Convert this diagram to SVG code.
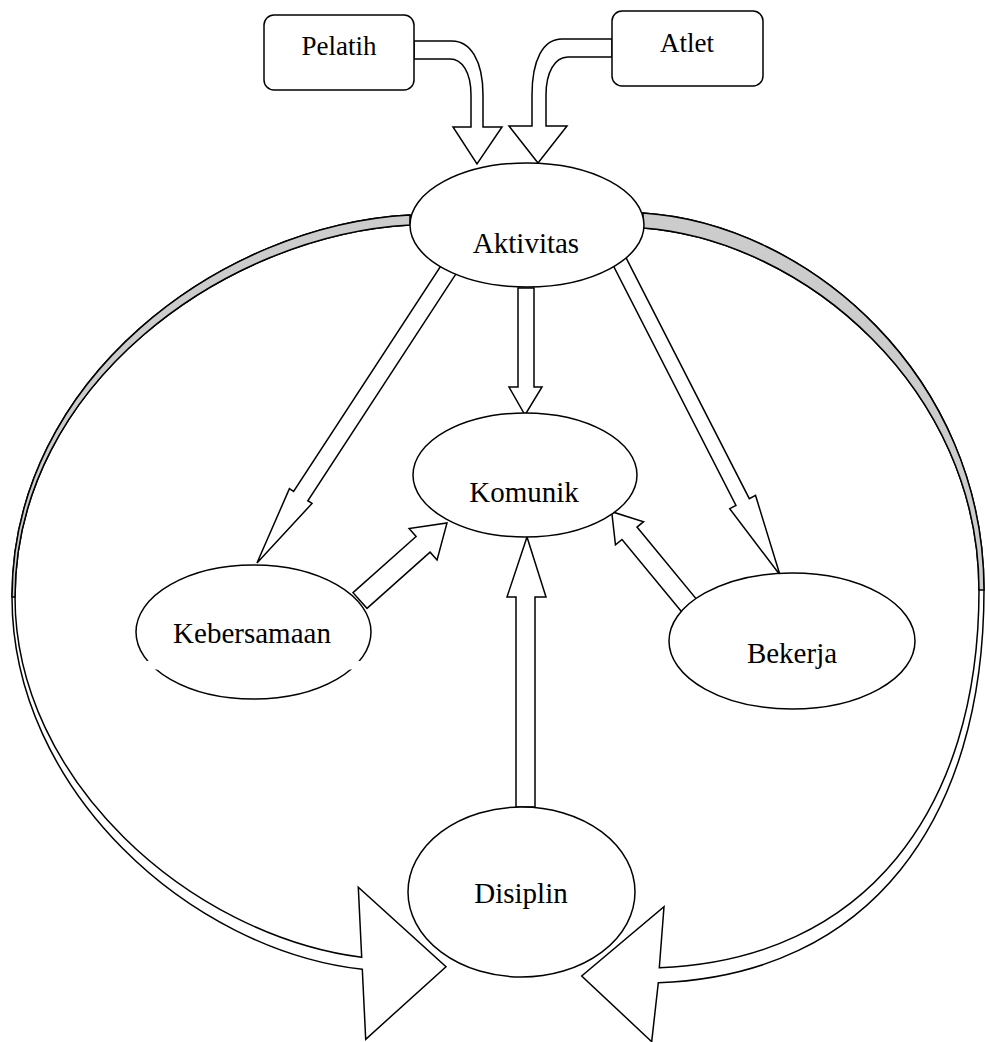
<svg xmlns="http://www.w3.org/2000/svg" width="985" height="1042" viewBox="0 0 985 1042">
<style>
.ln{fill:#ffffff;stroke:#000000;stroke-width:1.5;stroke-linejoin:miter}
.gr{fill:#cccccc;stroke:#000000;stroke-width:1.5}
.nd{fill:#ffffff;stroke:#000000;stroke-width:1.5}
.tx{font-family:"Liberation Serif","Times New Roman",serif;font-size:29px;fill:#000000;text-anchor:middle}
.tb{font-family:"Liberation Serif","Times New Roman",serif;font-size:27px;fill:#000000;text-anchor:middle}
</style>
<rect x="0" y="0" width="985" height="1042" fill="#ffffff"/>
<g id="connectors">
  <!-- left curved arrow -->
  <path class="ln" d="M410,215 C220,225 12,380 12,597 C12,790 190,950 362.3,969.3 L365.7,1039.3 L446,966.7 L358.3,887.3 L361.7,957.3 C190,935 15,780 15,597 C15,385 225,235 410,225 Z"/>
  <path class="gr" d="M410,215 C220,225 12,380 12,597 L15,597 C15,385 225,235 410,225 Z"/>
  <!-- right curved arrow -->
  <path class="ln" d="M643,213 C810,224 984,378 984,590 C984,820 870,975 658.3,982.7 L651.7,1041.7 L581.7,976 L664,906.7 L659.3,967.7 C865,960 979,810 979,590 C979,390 805,240 643,228 Z"/>
  <path class="gr" d="M643,213 C810,224 984,378 984,590 L979,590 C979,390 805,240 643,228 Z"/>
  <!-- Pelatih to Aktivitas -->
  <path class="ln" d="M414,41 L452,41 C470,41 483,60 483,95 L483,127 L502,127 L477,164 L453,127 L471,127 L471,95 C471,72 462,59 450,59 L414,59 Z"/>
  <!-- Atlet to Aktivitas -->
  <path class="ln" d="M612,39 L562,39 C543,39 532,60 532,95 L532,126 L509,126 L538,163 L567,126 L546,126 L546,95 C546,72 555,57 568,57 L612,57 Z"/>
  <!-- Aktivitas to Komunik -->
  <polygon class="ln" points="518,288 534,288 534,387 542,387 525,415 509,387 518,387"/>
  <!-- Aktivitas to Kebersamaan -->
  <polygon class="ln" transform="translate(450,267.5) rotate(123.15)" points="0,-8.5 273,-8.5 273,-13.5 353,0 273,13.5 273,8.5 0,8.5"/>
  <!-- Aktivitas to Bekerja -->
  <polygon class="ln" transform="translate(617.5,257.5) rotate(62.9)" points="0,-7.5 274.7,-7.5 274.7,-14.5 356.7,0 274.7,14.5 274.7,7.5 0,7.5"/>
  <!-- Kebersamaan to Komunik -->
  <polygon class="ln" transform="translate(360,600.5) rotate(-41.7)" points="0,-10.5 84.5,-10.5 84.5,-21 116.5,0 84.5,21 84.5,10.5 0,10.5"/>
  <!-- Bekerja to Komunik -->
  <polygon class="ln" transform="translate(689.3,605.8) rotate(-129.5)" points="0,-9.7 94,-9.7 94,-18.2 122,0 94,18.2 94,9.7 0,9.7"/>
  <!-- Disiplin to Komunik -->
  <polygon class="ln" points="516,807 535,807 535,597 546,597 527,537 507,597 516,597"/>
</g>
<g id="node-pelatih">
  <rect class="nd" x="264" y="15" width="150" height="75" rx="10" ry="10"/>
  <text class="tb" x="339" y="55">Pelatih</text>
</g>
<g id="node-atlet">
  <rect class="nd" x="612" y="11" width="151" height="75" rx="10" ry="10"/>
  <text class="tb" x="687" y="52">Atlet</text>
</g>
<g id="node-aktivitas">
  <ellipse class="nd" cx="527" cy="225" rx="117" ry="62"/>
  <text class="tx" x="526" y="253">Aktivitas</text>
</g>
<g id="node-komunik">
  <ellipse class="nd" cx="525" cy="475" rx="112" ry="62"/>
  <text class="tx" x="524" y="502">Komunik</text>
</g>
<g id="node-kebersamaan">
  <ellipse class="nd" cx="253.5" cy="632" rx="117.5" ry="67"/>
  <rect x="135" y="661" width="235" height="8.5" fill="#ffffff"/>
  <text class="tx" x="252" y="643">Kebersamaan</text>
</g>
<g id="node-bekerja">
  <ellipse class="nd" cx="792" cy="641" rx="123" ry="68"/>
  <text class="tx" x="792" y="663">Bekerja</text>
</g>
<g id="node-disiplin">
  <ellipse class="nd" cx="521.5" cy="892" rx="113.5" ry="85"/>
  <text class="tx" x="521" y="903">Disiplin</text>
</g>
</svg>
